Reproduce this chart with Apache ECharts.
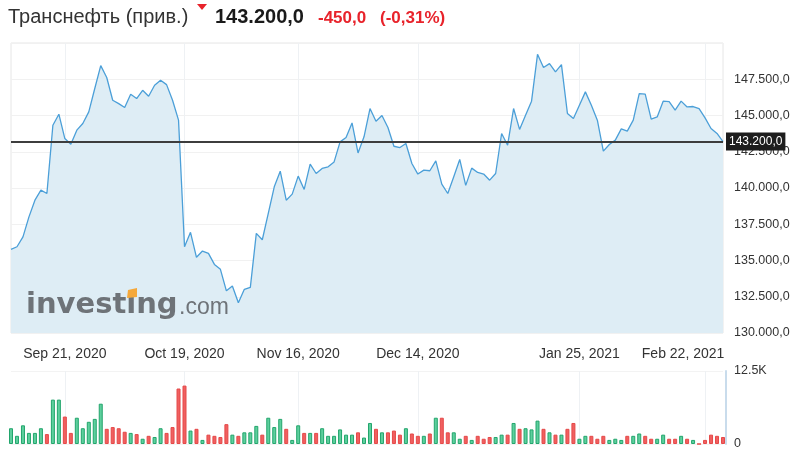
<!DOCTYPE html>
<html>
<head>
<meta charset="utf-8">
<script src="https://cdn.jsdelivr.net/npm/echarts@6/dist/echarts.min.js"></script>
<style>
html,body{margin:0;padding:0;background:#fff;}
#chart{width:800px;height:457px;}
</style>
</head>
<body>
<div id="chart"></div>
<script>
// ---- data ----
const dates = [
 'Sep 8, 2020','Sep 9, 2020','Sep 10, 2020','Sep 11, 2020','Sep 14, 2020','Sep 15, 2020','Sep 16, 2020','Sep 17, 2020','Sep 18, 2020',
 'Sep 21, 2020','Sep 22, 2020','Sep 23, 2020','Sep 24, 2020','Sep 25, 2020','Sep 28, 2020','Sep 29, 2020','Sep 30, 2020',
 'Oct 1, 2020','Oct 2, 2020','Oct 5, 2020','Oct 6, 2020','Oct 7, 2020','Oct 8, 2020','Oct 9, 2020',
 'Oct 12, 2020','Oct 13, 2020','Oct 14, 2020','Oct 15, 2020','Oct 16, 2020',
 'Oct 19, 2020','Oct 20, 2020','Oct 21, 2020','Oct 22, 2020','Oct 23, 2020',
 'Oct 26, 2020','Oct 27, 2020','Oct 28, 2020','Oct 29, 2020','Oct 30, 2020',
 'Nov 2, 2020','Nov 3, 2020','Nov 5, 2020','Nov 6, 2020',
 'Nov 9, 2020','Nov 10, 2020','Nov 11, 2020','Nov 12, 2020','Nov 13, 2020',
 'Nov 16, 2020','Nov 17, 2020','Nov 18, 2020','Nov 19, 2020','Nov 20, 2020',
 'Nov 23, 2020','Nov 24, 2020','Nov 25, 2020','Nov 26, 2020','Nov 27, 2020',
 'Nov 30, 2020','Dec 1, 2020','Dec 2, 2020','Dec 3, 2020','Dec 4, 2020',
 'Dec 7, 2020','Dec 8, 2020','Dec 9, 2020','Dec 10, 2020','Dec 11, 2020',
 'Dec 14, 2020','Dec 15, 2020','Dec 16, 2020','Dec 17, 2020','Dec 18, 2020',
 'Dec 21, 2020','Dec 22, 2020','Dec 23, 2020','Dec 24, 2020','Dec 25, 2020',
 'Dec 28, 2020','Dec 29, 2020','Dec 30, 2020','Dec 31, 2020',
 'Jan 4, 2021','Jan 5, 2021','Jan 6, 2021',
 'Jan 11, 2021','Jan 12, 2021','Jan 13, 2021','Jan 14, 2021','Jan 15, 2021',
 'Jan 18, 2021','Jan 19, 2021','Jan 20, 2021','Jan 21, 2021','Jan 22, 2021',
 'Jan 25, 2021','Jan 26, 2021','Jan 27, 2021','Jan 28, 2021','Jan 29, 2021',
 'Feb 1, 2021','Feb 2, 2021','Feb 3, 2021','Feb 4, 2021','Feb 5, 2021',
 'Feb 8, 2021','Feb 9, 2021','Feb 10, 2021','Feb 11, 2021','Feb 12, 2021',
 'Feb 15, 2021','Feb 16, 2021','Feb 17, 2021','Feb 18, 2021','Feb 19, 2021',
 'Feb 20, 2021','Feb 22, 2021','Feb 24, 2021','Feb 25, 2021','Feb 26, 2021'
];

const prices = [
 135770,135950,136630,138010,139160,139850,139620,144330,145090,
 143410,143020,143990,144450,145250,146860,148440,147620,
 146050,145820,145550,146470,146170,146740,146330,
 147090,147430,147130,146050,144680,
 135950,136940,135220,135650,135490,
 134730,134390,132910,133240,132090,
 133010,133150,136870,136430,
 138250,140080,141160,139160,139580,
 140820,139900,141640,141000,141350,
 141460,141800,143180,143480,144490,
 142420,143530,145480,144610,145000,
 144170,142880,142790,143070,141690,
 140960,141230,141190,141870,140270,
 139620,140770,141970,140180,141370,
 141070,140960,140540,141000,
 143760,142950,145480,
 144040,145020,145990,149220,148310,
 148580,148010,148510,145140,144790,
 145710,146630,145710,144680,142540,
 143000,143300,144080,143920,144680,
 146510,146480,144750,144900,145990,
 145950,145370,145990,145590,145620,
 145480,144840,144100,143760,143200
];

// volume in thousands
const volumes = [
 2.7,1.4,3.2,1.9,1.9,2.7,1.7,7.6,7.6,
 4.7,1.9,4.5,2.7,3.8,4.3,6.9,2.6,
 2.9,2.7,2.1,1.9,1.7,0.9,1.4,
 1.2,2.7,1.9,2.9,9.5,
 10.0,2.3,2.6,0.7,1.6,
 1.4,1.2,3.4,1.6,1.4,
 2.0,2.0,3.1,1.6,
 4.5,2.9,4.3,2.6,0.7,
 3.2,1.9,1.9,1.9,2.7,
 1.4,1.4,2.5,1.6,1.6,
 2.0,1.1,3.6,2.6,2.0,
 2.0,2.3,1.6,2.7,1.8,
 1.4,1.4,1.8,4.5,4.5,
 2.0,2.0,0.9,1.4,0.7,
 1.4,0.9,1.2,1.2,
 1.6,1.6,3.6,
 2.6,2.7,2.5,4.0,2.6,
 2.0,1.6,1.6,2.6,3.6,
 0.9,1.4,1.4,0.9,1.4,
 0.7,0.9,0.7,1.4,1.4,
 1.8,1.4,0.9,0.9,1.6,
 0.9,0.9,1.4,0.9,0.7,
 0,0.7,1.6,1.4,1.2
];

const tickLabels = ['Sep 21, 2020','Oct 19, 2020','Nov 16, 2020','Dec 14, 2020','Jan 25, 2021','Feb 22, 2021'];
const priceTicks = {min: 130000, max: 150000, step: 2500};
const volumeTicks = {min: 0, max: 12500};
const lastPrice = 143200;
const titleName = 'Транснефть (прив.)';
const titlePrice = '143.200,0';
const titleChange = '-450,0';
const titlePct = '(-0,31%)';

// ---- chart ----
const FONT = '"Liberation Sans", Arial, sans-serif';
const fmtPrice = v => String(v).replace(/\B(?=(\d{3})+(?!\d))/g, '.') + ',0';
const showTick = (i, v) => tickLabels.indexOf(v) >= 0;

const xData = dates.map(d => d === 'Feb 22, 2021' ? {value: d, textStyle: {padding: [0, 44, 0, 0]}} : d);

const volData = volumes.map((v, i) => {
  const up = i === 0 || prices[i] >= prices[i - 1];
  return {
    value: v * 1000,
    itemStyle: up ? {color: '#5dcf9d', borderColor: '#22a56c', borderWidth: 1}
                  : {color: '#f06060', borderColor: '#e54848', borderWidth: 1}
  };
});

const chart = echarts.init(document.getElementById('chart'), null, {renderer: 'canvas'});
chart.setOption({
  animation: false,
  backgroundColor: '#fff',
  textStyle: {fontFamily: FONT},
  grid: [
    {left: 11, right: 77, top: 43, height: 290, show: true, borderColor: '#e6e6e6', borderWidth: 1, backgroundColor: 'transparent'},
    {left: 11, right: 77, top: 371, height: 73}
  ],
  xAxis: [
    {
      type: 'category', gridIndex: 0, data: xData, boundaryGap: false,
      axisLine: {show: false}, axisTick: {show: false},
      axisLabel: {interval: showTick, color: '#333', fontSize: 14, margin: 14, fontFamily: FONT},
      splitLine: {show: true, interval: showTick, lineStyle: {color: '#eef1f4', width: 1}}
    },
    {
      type: 'category', gridIndex: 1, data: dates, boundaryGap: false,
      axisLine: {show: false}, axisTick: {show: false}, axisLabel: {show: false},
      splitLine: {show: true, interval: showTick, lineStyle: {color: '#eef1f4', width: 1}}
    }
  ],
  yAxis: [
    {
      type: 'value', gridIndex: 0, position: 'right',
      min: priceTicks.min, max: priceTicks.max, interval: priceTicks.step,
      axisLine: {show: false}, axisTick: {show: false},
      axisLabel: {formatter: fmtPrice, color: '#333', fontSize: 12.5, margin: 11, showMaxLabel: false, fontFamily: FONT},
      splitLine: {show: true, lineStyle: {color: '#f1f1f1', width: 1}}
    },
    {
      type: 'value', gridIndex: 1, position: 'right',
      min: volumeTicks.min, max: volumeTicks.max, interval: volumeTicks.max,
      offset: 3,
      axisLine: {show: true, lineStyle: {color: '#c9dcec', width: 2}}, axisTick: {show: false},
      axisLabel: {formatter: v => v === 0 ? '0' : (v / 1000) + 'K', color: '#333', fontSize: 12.5, margin: 8, fontFamily: FONT},
      splitLine: {show: true, lineStyle: {color: '#f3f3f3', width: 1}}
    }
  ],
  series: [
    {
      type: 'line', xAxisIndex: 0, yAxisIndex: 0, data: prices,
      symbol: 'none', smooth: false,
      lineStyle: {color: '#4b9fd8', width: 1.3},
      areaStyle: {color: '#deedf5', opacity: 1},
      markLine: {
        silent: true, symbol: ['none', 'none'],
        data: [{yAxis: lastPrice}],
        lineStyle: {color: '#3d3d3d', width: 2, type: 'solid'},
        label: {position: 'end', distance: 3, formatter: fmtPrice(lastPrice), color: '#fff',
                backgroundColor: '#1d1d1d', padding: [3, 3, 3, 3], fontSize: 12, fontFamily: FONT}
      }
    },
    {
      type: 'bar', xAxisIndex: 1, yAxisIndex: 1, data: volData,
      barWidth: 4, clip: false
    }
  ],
  graphic: [
    {type: 'text', x: 8, y: 17, style: {text: titleName, fontSize: 20, fontFamily: FONT, fill: '#333', verticalAlign: 'middle'}},
    {type: 'polygon', shape: {points: [[197, 4], [207, 4], [202, 10]]}, style: {fill: '#e8232b'}},
    {type: 'text', x: 215, y: 17, style: {text: titlePrice, fontSize: 20, fontWeight: 'bold', fontFamily: FONT, fill: '#1a1a1a', verticalAlign: 'middle'}},
    {type: 'text', x: 318, y: 18, style: {text: titleChange, fontSize: 17, fontWeight: 'bold', fontFamily: FONT, fill: '#e8232b', verticalAlign: 'middle'}},
    {type: 'text', x: 380, y: 18, style: {text: titlePct, fontSize: 17, fontWeight: 'bold', fontFamily: FONT, fill: '#e8232b', verticalAlign: 'middle'}},
    {type: 'text', x: 26, y: 305, z: 10, style: {text: 'investing', fontSize: 29, fontWeight: 'bold', fontFamily: '"DejaVu Sans"', fill: '#6e7378', verticalAlign: 'middle'}},
    {type: 'text', x: 179, y: 308, z: 10, style: {text: '.com', fontSize: 23, fontFamily: FONT, fill: '#6e7378', verticalAlign: 'middle'}},
    {type: 'polygon', z: 11, shape: {points: [[128, 290], [137, 288], [137, 297], [127, 298]]}, style: {fill: '#f5a83a'}}
  ]
});
</script>
</body>
</html>
